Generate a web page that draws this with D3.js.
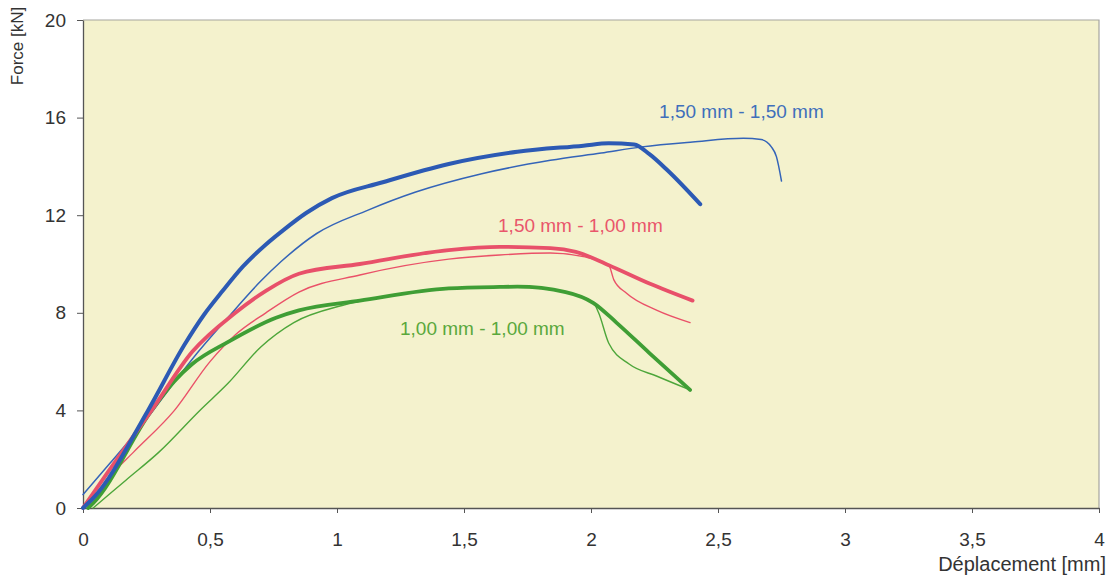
<!DOCTYPE html>
<html>
<head>
<meta charset="utf-8">
<script src="https://cdn.jsdelivr.net/npm/d3@7"></script>
<style>
  body { margin: 0; background: #ffffff; }
  svg { display: block; font-family: "Liberation Sans", Arial, sans-serif; }
</style>
</head>
<body>
<svg id="chart" width="1107" height="580"></svg>
<script>
// ---- Data ----
const xTicks = [0, 0.5, 1, 1.5, 2, 2.5, 3, 3.5, 4];
const yTicks = [0, 4, 8, 12, 16, 20];

const blueThickX = [0, 0.04, 0.256, 0.4, 0.475, 0.55, 0.63, 0.72, 0.79, 0.88, 0.98, 1.18, 1.44, 1.71, 1.97, 2.07, 2.17, 2.23, 2.3, 2.43];
const blueThickY = [0, 0.4, 4.0, 6.7, 7.9, 8.9, 9.9, 10.8, 11.4, 12.1, 12.7, 13.35, 14.1, 14.6, 14.85, 14.95, 14.9, 14.5, 13.85, 12.45];

const blueThinX = [0, 0.106, 0.24, 0.37, 0.43, 0.57, 0.70, 0.78, 0.92, 1.12, 1.31, 1.57, 1.84, 2.04, 2.2, 2.4, 2.6, 2.67, 2.71, 2.73, 2.75];
const blueThinY = [0.55, 1.83, 3.5, 5.3, 6.1, 7.8, 9.3, 10.1, 11.25, 12.2, 12.95, 13.7, 14.25, 14.55, 14.8, 15.0, 15.15, 15.1, 14.8, 14.4, 13.4];

const redThickX = [0, 0.1, 0.27, 0.43, 0.6, 0.72, 0.85, 1.09, 1.44, 1.64, 1.84, 1.94, 2.07, 2.23, 2.40];
const redThickY = [0, 1.5, 4.0, 6.4, 8.0, 8.9, 9.6, 10.0, 10.57, 10.7, 10.65, 10.5, 9.95, 9.2, 8.5];

const redThinX = [0.02, 0.106, 0.2, 0.36, 0.5, 0.6, 0.72, 0.85, 1.09, 1.44, 1.64, 1.84, 1.97, 2.07, 2.09, 2.14, 2.26, 2.39];
const redThinY = [0.1, 1.3, 2.3, 4.0, 6.0, 7.1, 8.0, 8.85, 9.55, 10.2, 10.37, 10.45, 10.3, 9.95, 9.35, 8.8, 8.1, 7.6];

const greenThickX = [0.02, 0.04, 0.27, 0.36, 0.43, 0.57, 0.76, 0.85, 1.09, 1.44, 1.64, 1.71, 1.9, 2.01, 2.1, 2.23, 2.39];
const greenThickY = [0, 0.2, 4.0, 5.2, 5.9, 6.8, 7.8, 8.1, 8.5, 9.0, 9.06, 9.07, 8.85, 8.4, 7.6, 6.35, 4.84];

const greenThinX = [0.04, 0.17, 0.30, 0.46, 0.57, 0.70, 0.83, 1.02, 1.15, 1.44, 1.71, 1.9, 2.01, 2.03, 2.07, 2.15, 2.26, 2.39];
const greenThinY = [0, 1.15, 2.3, 4.0, 5.1, 6.6, 7.6, 8.3, 8.6, 9.0, 9.05, 8.85, 8.4, 8.0, 6.75, 5.9, 5.4, 4.84];

const seriesLabels = ["1,50 mm - 1,50 mm", "1,50 mm - 1,00 mm", "1,00 mm - 1,00 mm"];
const labelX = [2.268, 1.634, 1.248];
const labelY = [15.98, 11.31, 7.07];

// ---- Layout ----
const svg = d3.select("#chart");
const L = 83, R = 1099, T = 20, B = 508;
const x = d3.scaleLinear().domain([0, 4]).range([L, R]);
const y = d3.scaleLinear().domain([0, 20]).range([B, T]);

svg.append("rect").attr("x", L).attr("y", T).attr("width", R - L).attr("height", B - T)
  .attr("fill", "#f4f2cd");
svg.append("path").attr("d", `M${L},${T}H${R}V${B}`).attr("fill", "none")
  .attr("stroke", "#a5a5a0").attr("stroke-width", 1.2);

const fmt = d => String(d).replace(".", ",");

const gx = svg.append("g").attr("transform", `translate(0,${B})`)
  .call(d3.axisBottom(x).tickValues(xTicks).tickFormat(fmt).tickSize(5).tickPadding(20).tickSizeOuter(0));
const gy = svg.append("g").attr("transform", `translate(${L},0)`)
  .call(d3.axisLeft(y).tickValues(yTicks).tickSize(6).tickPadding(11).tickSizeOuter(0));
[gx, gy].forEach(g => {
  g.select(".domain").attr("stroke", "#555").attr("stroke-width", 1.3);
  g.selectAll(".tick line").attr("stroke", "#555");
  g.selectAll(".tick text").attr("fill", "#333").style("font-size", "19px")
    .style("font-family", "'Liberation Sans', Arial, sans-serif");
});

svg.append("text").attr("x", 1106).attr("y", 571).attr("text-anchor", "end")
  .attr("fill", "#333").style("font-size", "20px").text("Déplacement [mm]");
svg.append("text").attr("transform", "translate(23,46) rotate(-90)").attr("text-anchor", "middle")
  .attr("fill", "#333").style("font-size", "17px").text("Force [kN]");

// ---- Curves ----
const line = d3.line().x(d => x(d[0])).y(d => y(d[1])).curve(d3.curveMonotoneX);
const zip = (a, b) => a.map((v, i) => [v, b[i]]);
const curves = [
  { xs: greenThinX, ys: greenThinY, c: "#4da63a", w: 1.4 },
  { xs: redThinX, ys: redThinY, c: "#ea5168", w: 1.4 },
  { xs: blueThinX, ys: blueThinY, c: "#3464b8", w: 1.5 },
  { xs: greenThickX, ys: greenThickY, c: "#3f9e35", w: 3.8 },
  { xs: redThickX, ys: redThickY, c: "#e8506a", w: 3.8 },
  { xs: blueThickX, ys: blueThickY, c: "#2c5ab4", w: 4 }
];
curves.forEach(s => {
  svg.append("path").datum(zip(s.xs, s.ys)).attr("d", line)
    .attr("fill", "none").attr("stroke", s.c).attr("stroke-width", s.w)
    .attr("stroke-linejoin", "round").attr("stroke-linecap", "round");
});

const labelColors = ["#3f6fbb", "#e9566b", "#5aa83c"];
seriesLabels.forEach((t, i) => {
  svg.append("text").attr("x", x(labelX[i])).attr("y", y(labelY[i]))
    .attr("fill", labelColors[i]).style("font-size", "19px").text(t);
});
</script>
</body>
</html>
